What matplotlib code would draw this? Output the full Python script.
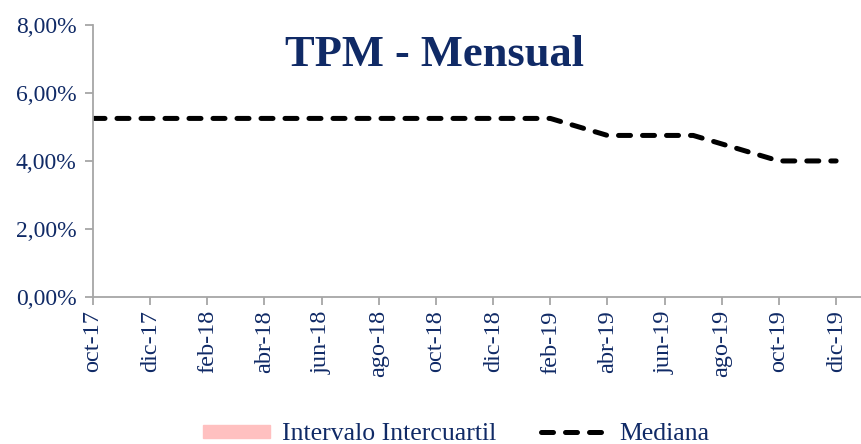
import matplotlib.pyplot as plt
import matplotlib.patches as mpatches
from matplotlib.lines import Line2D
import numpy as np

# datos
meses = ["oct-17", "nov-17", "dic-17", "ene-18", "feb-18", "mar-18", "abr-18",
         "may-18", "jun-18", "jul-18", "ago-18", "sep-18", "oct-18", "nov-18",
         "dic-18", "ene-19", "feb-19", "mar-19", "abr-19", "may-19", "jun-19",
         "jul-19", "ago-19", "sep-19", "oct-19", "nov-19", "dic-19"]
mediana = [5.25, 5.25, 5.25, 5.25, 5.25, 5.25, 5.25, 5.25, 5.25, 5.25, 5.25,
           5.25, 5.25, 5.25, 5.25, 5.25, 5.25, 5.00, 4.75, 4.75, 4.75, 4.75,
           4.50, 4.25, 4.00, 4.00, 4.00]
y_ticks = [0, 2, 4, 6, 8]

azul = "#102a66"
gris = "#a6a6a6"
plt.rcParams['font.family'] = ['Liberation Serif', 'DejaVu Serif']

def main():
    fig = plt.figure(figsize=(8.61, 4.44), dpi=100)
    ax = fig.add_axes([0.108, 0.331, 0.892, 0.613])
    x = np.arange(len(meses))

    ax.plot(x, mediana, color="black", lw=3.6, dashes=(2.4, 2.4),
            dash_capstyle="round", solid_joinstyle="round")

    ax.set_xlim(0, len(meses) - 1 + 0.87)
    ax.set_ylim(0, 8)
    ax.set_yticks(y_ticks)
    ax.set_yticklabels([f"{v:.2f}%".replace(".", ",") for v in y_ticks])
    ax.set_xticks(x[::2])
    ax.set_xticklabels(meses[::2], rotation=90)

    for s in ["top", "right"]:
        ax.spines[s].set_visible(False)
    for s in ["left", "bottom"]:
        ax.spines[s].set_color(gris)
        ax.spines[s].set_linewidth(1.3)
    ax.tick_params(colors=gris, labelcolor=azul, labelsize=17.5, length=6, width=1.3)
    ax.tick_params(axis="y", labelsize=17, pad=6)

    ax.text(0.445, 0.89, "TPM - Mensual", transform=ax.transAxes, ha="center",
            va="center", fontsize=32, fontweight="bold", color=azul)

    h1 = mpatches.Patch(color="#ffc0c0", label="Intervalo Intercuartil")
    h2 = Line2D([], [], color="black", lw=3.6, dashes=(2.4, 2.4),
                dash_capstyle="round", label="Mediana")
    fig.legend(handles=[h1, h2], loc="lower center", bbox_to_anchor=(0.530, -0.055),
               ncol=2, frameon=False, fontsize=18.5, labelcolor=azul,
               handlelength=2.6, handletextpad=0.45, columnspacing=1.75,
               handleheight=0.4)

    fig.savefig("out.png", dpi=100)

if __name__ == '__main__':
    main()
